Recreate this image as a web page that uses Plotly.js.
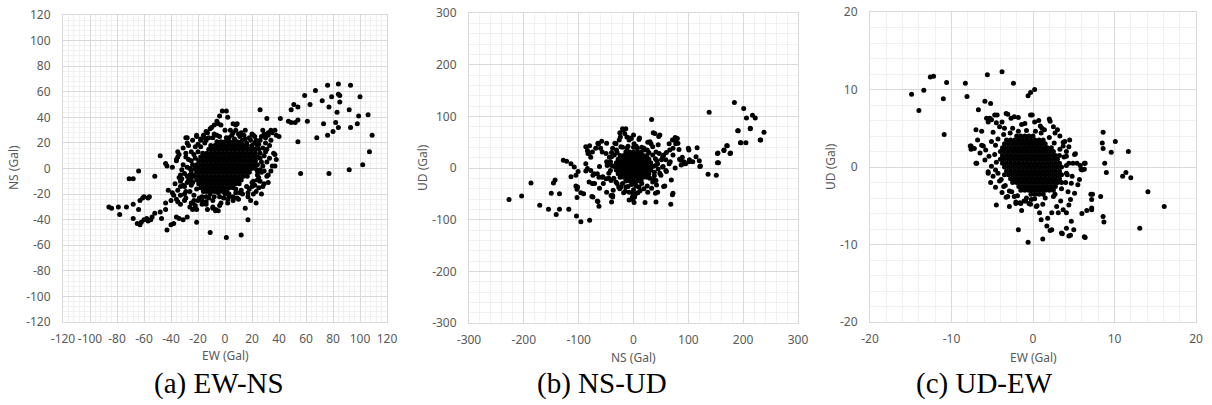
<!DOCTYPE html>
<html>
<head>
<meta charset="utf-8">
<script src="https://cdn.plot.ly/plotly-3.0.1.min.js"></script>
<style>
  html, body { margin: 0; padding: 0; background: #fff; }
  #chart { width: 1212px; height: 405px; }
</style>
</head>
<body>
<div id="chart"></div>
<script>
// Tick positions and their labels for each panel
const ticksA = [-120, -100, -80, -60, -40, -20, 0, 20, 40, 60, 80, 100, 120];
const ticksB = [-300, -200, -100, 0, 100, 200, 300];
const ticksC = [-20, -10, 0, 10, 20];
const labelsA = ['-120', '-100', '-80', '-60', '-40', '-20', '0', '20', '40', '60', '80', '100', '120'];
const labelsB = ['-300', '-200', '-100', '0', '100', '200', '300'];
const labelsC = ['-20', '-10', '0', '10', '20'];

// ---- (a) EW-NS : dense centre, one row per NS level [ns, [ew...]] ----
const ewNsCoreRows = [
  [21, [-6, -3, 0, 3, 6, 9, 12]],
  [18, [-10.5, -7.5, -4.5, -1.5, 1.5, 4.5, 7.5, 10.5, 13.5, 16.5]],
  [15, [-12, -9, -6, -3, 0, 3, 6, 9, 12, 15, 18, 21]],
  [12, [-16.5, -13.5, -10.5, -7.5, -4.5, -1.5, 1.5, 4.5, 7.5, 10.5, 13.5, 16.5, 19.5, 22.5]],
  [9, [-18, -15, -12, -9, -6, -3, 0, 3, 6, 9, 12, 15, 18, 21, 24]],
  [6, [-19.5, -16.5, -13.5, -10.5, -7.5, -4.5, -1.5, 1.5, 4.5, 7.5, 10.5, 13.5, 16.5, 19.5, 22.5]],
  [3, [-21, -18, -15, -12, -9, -6, -3, 0, 3, 6, 9, 12, 15, 18, 21, 24]],
  [0, [-22.5, -19.5, -16.5, -13.5, -10.5, -7.5, -4.5, -1.5, 1.5, 4.5, 7.5, 10.5, 13.5, 16.5, 19.5, 22.5]],
  [-3, [-21, -18, -15, -12, -9, -6, -3, 0, 3, 6, 9, 12, 15, 18]],
  [-6, [-22.5, -19.5, -16.5, -13.5, -10.5, -7.5, -4.5, -1.5, 1.5, 4.5, 7.5, 10.5, 13.5, 16.5]],
  [-9, [-21, -18, -15, -12, -9, -6, -3, 0, 3, 6, 9, 12]],
  [-12, [-19.5, -16.5, -13.5, -10.5, -7.5, -4.5, -1.5, 1.5, 4.5, 7.5, 10.5]],
  [-15, [-18, -15, -12, -9, -6, -3, 0, 3, 6]],
  [-18, [-13.5, -10.5, -7.5, -4.5, -1.5, 1.5]]
];
// (a) scattered points [ew, ns]
const ewNsOuter = [
  [26,46],[31,39],[41,39],[40,25],[47,37],[49,36],[52,36],[54,38],[49,46],[51,50],[54,48],[54,21],[56,-4],
  [59,57],[61,37],[63,50],[67,61],[68,24],[72,53],[73,35],[76,65],[77,48],[76,26],[77,-4],[79,56],[80,29],
  [82,36],[84,66],[84,58],[85,57],[85,52],[83,44],[84,32],[93,65],[92,46],[93,32],[92,-1],[100,56],[99,41],
  [98,35],[106,42],[109,26],[107,13],[102,3],
  [-86,-30],[-84,-31],[-79,-30],[-78,-36],[-73,-30],[-71,-8],[-68,-8],[-64,-2],[-52,-6],[-48,10],[-68,-28],
  [-64,-32],[-63,-25],[-61,-23],[-60,-22],[-57,-23],[-56,-22],[-68,-39],[-65,-43],[-63,-44],[-62,-42],
  [-60,-40],[-58,-39],[-57,-41],[-55,-40],[-54,-38],[-52,-35],[-48,-34],[-47,-39],[-44,-32],[-44,-27],
  [-43,-48],[-40,-44],[-38,-43],[-36,-38],[-34,-39],[-31,-40],[-28,-38],[-21,-42],[-44,4],[-43,2],[-42,-17],
  [-39,-19],[-38,-21],[-40,-25],[-36,-24],[-35,-26],[-33,-28],[-36,7],[-35,9],[-35,13],[-28,20],[-28,24],
  [-31,3],[-32,-1],[-34,-7],[-33,-10],[-31,-13],[-28,-11],[-35,-17],[-33,-21],[-30,-25],[-26,-30],[-24,-27],
  [-24,-32],[-22,-31],[-17,-28],[-34,11],[-36,6],[-39,1],[-33,-5],[-32,-8],[-30,-14],[-27,-10],[-24,-5],
  [-28,1],[-25,6],[-23,11],
  [-29,24],[-21,25],[-18,23],[-15,24],[-13,28],[-10,32],[-4,41],[-2,45],[1,45],[-5,35],[2,40],[6,35],[8,34],
  [10,27],[13,22],[6,28],[3,24],[-21,26],[-16,26],[-14,29],[-11,31],[-6,37],[-8,34],[-3,34],[0,30],[-8,27],
  [-12,24],[-18,22],[-24,22],[-27,18],[-25,13],[-29,12],[-27,7],[4,30],[9,35],
  [15,23],[21,26],[23,22],[29,27],[32,28],[34,30],[38,26],[37,11],[38,7],[35,2],[32,-5],[32,-11],[28,-14],
  [26,-10],[24,-2],[27,-20],[23,-18],[17,-22],[19,-25],[23,-27],[15,-31],[17,-40],[12,-52],[37,30],[35,28],
  [32,26],[37,2],[36,12],[28,30],[30,20],[33,18],[25,15],[29,10],[31,5],[27,-3],[31,-6],[29,-12],[25,-15],
  [21,-10],[24,-5],[34,-2],[26,22],[22,25],[20,27],[15,30],[12,28],[8,30],[27,25],[25,19],[28,16],[26,8],
  [28,2],[25,-7],[22,-13],[18,-16],[30,13],
  [-11,-50],[1,-54],[-29,-23],[-25,-27],[-22,-29],[-19,-23],[-17,-22],[-14,-28],[-13,-32],[-9,-31],[-7,-32],
  [-4,-29],[-1,-23],[3,-20],[6,-25],[9,-23],[11,-19],[8,-16],[-7,-33],[-5,-33],[-9,-30],[-3,-27],[2,-27],
  [10,-24],[-14,-26],[-19,-24],[-12,-23],[-23,-21],[-20,-25],[-14,-22],[-9,-25],[-4,-22],[3,-22],[8,-19],
  [12,-17],[16,-14],[20,-14],[-26,-18],[-25,-13],[-27,-9],[-26,-5],[-26,0],[-21,-32],
  [-14,22],[-9,24],[-4,25],[1,24],[7,23],[11,25],[16,20],[19,22],[24,18],[22,15],[26,12],[27,5],[26,-1],
  [24,-9],[20,-11],[17,-19],[13,-20],[6,-22],[0,-20],[-5,-19],[-11,-20],[-16,-18],[-21,-16],[-24,-11],
  [-25,-8],[-25,-2],[-24,3],[-22,8],[-20,13],[-18,17],[-15,20],[31,15],[34,22],[30,24],[20,18],[33,8],
  [29,-2],[21,-20],[-29,-18],[-30,-4],[-28,-6],[-20,19],[-6,26],[5,26],[14,26],[18,24],[22,20],[-23,-25],
  [-17,-25],[-8,-22],[2,-24],[-30,-20],[-33,-14],[-37,-12],[-29,9],[-31,16],[-22,17]
];

// ---- (b) NS-UD : dense centre, one row per UD level [ud, [ns...]] ----
const nsUdCoreRows = [
  [31, [-14, -7, 0, 7, 14]],
  [24, [-24.5, -17.5, -10.5, -3.5, 3.5, 10.5, 17.5, 24.5]],
  [17, [-28, -21, -14, -7, 0, 7, 14, 21, 28]],
  [10, [-31.5, -24.5, -17.5, -10.5, -3.5, 3.5, 10.5, 17.5, 24.5, 31.5]],
  [3, [-35, -28, -21, -14, -7, 0, 7, 14, 21, 28, 35]],
  [-4, [-31.5, -24.5, -17.5, -10.5, -3.5, 3.5, 10.5, 17.5, 24.5, 31.5]],
  [-11, [-28, -21, -14, -7, 0, 7, 14, 21, 28]],
  [-18, [-24.5, -17.5, -10.5, -3.5, 3.5, 10.5, 17.5, 24.5]],
  [-25, [-14, -7, 0, 7, 14]],
  [-32, [-3.5, 3.5]]
];
// (b) scattered points [ns, ud]
const nsUdOuter = [
  [-227,-61],[-204,-54],[-187,-29],[-171,-72],[-155,-80],[-150,-49],[-146,-29],[-143,-23],[-141,-90],
  [-135,-50],[-135,-80],[-118,-80],[-128,15],[-122,13],[-114,8],[-114,-17],[-108,2],[-105,-14],[-103,-57],
  [-104,-93],[-102,-37],[-96,-48],[-96,-104],[-91,-50],[-80,-101],[-76,-55],[-66,-64],[-63,-74],[-41,-53],
  [-40,-66],[33,94],[-20,76],[-14,76],[-25,68],[-12,60],[-4,57],[10,55],[36,68],[46,61],[32,47],[76,59],
  [71,54],[65,47],[83,36],[86,15],[92,8],[100,38],[116,39],[120,14],[121,3],[138,108],[136,-12],[151,-14],
  [153,10],[153,28],[165,34],[170,43],[176,28],[184,127],[190,72],[195,49],[201,115],[205,49],[206,97],
  [213,76],[217,102],[222,97],[231,54],[238,69],[71,-52],[68,-70],[55,-36],[41,-66],[21,-67],[40,-49],
  [1,-67],[-1,-61],
  [-101,-7],[-105,-35],[-103,-41],[-83,28],[-80,43],[-65,48],[-74,-56],[-49,48],[-34,48],[-31,35],[-19,74],
  [-16,67],[-87,-6],[-74,-14],[-65,-65],[-56,-17],[-62,3],[-49,12],[-40,22],[-71,-30],[-62,-39],[-37,-43],
  [-87,41],[-84,34],[-81,28],[-78,21],[-75,31],[-69,38],[-64,46],[-60,38],[-57,31],[-50,28],[-44,21],
  [-38,38],[-32,47],[-26,54],[-23,41],[-8,54],[1,47],[7,38],[19,38],[26,50],[35,41],[41,31],[47,28],[53,21],
  [59,16],[65,8],[72,38],[77,47],[80,57],[89,21],[95,8],[102,16],[108,12],[53,2],[59,-5],[50,-14],[41,-24],
  [35,-27],[44,-47],[26,-47],[19,-40],[10,-37],[4,-50],[-2,-56],[-8,-47],[-14,-37],[-23,-37],[-32,-27],
  [-41,-24],[-50,-21],[-57,-18],[-66,-11],[-72,-11],[-78,-5],[-84,-1],[-87,8],[-81,-27],[-75,-30],[-63,-18],
  [-49,-47],[-38,-53],[-27,-37],[-38,-56],
  [213,77],[191,72],[232,54],[196,49],[177,29],[171,43],[165,35],[154,29],[155,10],[122,4],[114,22],
  [101,35],[101,12],[92,12],[84,17],[87,6],[72,25],[67,12],[76,0],[69,-23],[72,-49],[57,-35],[81,48],
  [75,54],[39,67],[48,64],[30,51],[11,58],[-7,58],[36,-23],[42,-33],[33,-39],[2,-56],[-1,-49],[54,3],
  [60,-7],[48,-10],[66,35],[51,16],
  [-45,10],[-42,-5],[-40,5],[-45,-10],[40,5],[42,15],[38,-8],[45,-2],[-20,40],[-10,42],[5,42],[15,40],
  [25,35],[-25,-40],[-15,-45],[0,-42],[12,-44],[25,-35],[30,-20],[-35,25],[-40,30],[-30,-30],
  [-45,-20],[-48,5],[-36,-20],[-20,-30],[-10,-36],[5,-35],[15,-30],[38,-15],[44,8],[40,18],[35,25],
  [28,30],[20,35],[0,40],[-12,38],[-30,30],[-42,12],[-8,-62],[8,-48],[-18,-48],[-55,-30],[55,25],
  [60,30],[45,45],[-24,60],[0,64],[-58,52]
];

// ---- (c) UD-EW : dense centre, one row per UD level [ud, [ew...]] ----
const udEwCoreRows = [
  [4.0, [-2, -1.5, -1, -0.5, 0]],
  [3.5, [-3.25, -2.75, -2.25, -1.75, -1.25, -0.75, -0.25, 0.25, 0.75, 1.25]],
  [3.0, [-3.5, -3, -2.5, -2, -1.5, -1, -0.5, 0, 0.5, 1, 1.5]],
  [2.5, [-3.75, -3.25, -2.75, -2.25, -1.75, -1.25, -0.75, -0.25, 0.25, 0.75, 1.25, 1.75, 2.25]],
  [2.0, [-4, -3.5, -3, -2.5, -2, -1.5, -1, -0.5, 0, 0.5, 1, 1.5, 2, 2.5]],
  [1.5, [-3.75, -3.25, -2.75, -2.25, -1.75, -1.25, -0.75, -0.25, 0.25, 0.75, 1.25, 1.75, 2.25, 2.75, 3.25]],
  [1.0, [-4, -3.5, -3, -2.5, -2, -1.5, -1, -0.5, 0, 0.5, 1, 1.5, 2, 2.5, 3]],
  [0.5, [-3.75, -3.25, -2.75, -2.25, -1.75, -1.25, -0.75, -0.25, 0.25, 0.75, 1.25, 1.75, 2.25, 2.75, 3.25]],
  [0.0, [-3.5, -3, -2.5, -2, -1.5, -1, -0.5, 0, 0.5, 1, 1.5, 2, 2.5, 3, 3.5]],
  [-0.5, [-3.25, -2.75, -2.25, -1.75, -1.25, -0.75, -0.25, 0.25, 0.75, 1.25, 1.75, 2.25, 2.75, 3.25]],
  [-1.0, [-3.5, -3, -2.5, -2, -1.5, -1, -0.5, 0, 0.5, 1, 1.5, 2, 2.5, 3, 3.5]],
  [-1.5, [-2.75, -2.25, -1.75, -1.25, -0.75, -0.25, 0.25, 0.75, 1.25, 1.75, 2.25, 2.75, 3.25]],
  [-2.0, [-2.5, -2, -1.5, -1, -0.5, 0, 0.5, 1, 1.5, 2, 2.5, 3, 3.5]],
  [-2.5, [-1.75, -1.25, -0.75, -0.25, 0.25, 0.75, 1.25, 1.75, 2.25, 2.75]],
  [-3.0, [-1.5, -1, -0.5, 0, 0.5, 1, 1.5, 2, 2.5]],
  [-3.5, [-0.25, 0.25, 0.75, 1.25]]
];
// (c) scattered points [ew, ud]
const udEwOuter = [
  [-14.9,9.4],[-14,7.3],[-13.4,9.9],[-12.6,11.6],[-12.2,11.7],[-11,8.8],[-10.9,4.2],[-10.6,10.9],[-8.3,10.8],
  [-8.1,9.1],[-6.7,7.4],[-5.9,8.5],[-5.2,8.2],[-5.6,11.9],[-3.8,12.3],[-2.4,10.8],[-0.6,9.2],[-0.3,9.6],
  [0.2,10],[-7,0.5],[-7.6,2.7],[-4.6,-2.6],[-4.5,-4.9],[-3.3,-3.9],[-2.9,-5.1],[-1.8,-8.1],[-0.6,-9.7],
  [1.2,-9.3],[3.5,-8.5],[4.4,-8.9],[5,-8.1],[6.3,-9],[4.7,-7],[2.1,-8.2],[7.2,-5.5],[7.2,-4.2],[7.1,-3.5],
  [5.1,1.6],[6.3,0.5],[6.3,-0.3],[8.3,-3.8],[8.6,4.5],[8.5,3.1],[8.6,2.4],[8.8,0.5],[9,-0.7],[8.6,-6.4],
  [8.7,-7.1],[9.6,1.9],[10.1,3.3],[11,-1.2],[11.4,-0.7],[11.7,2],[12,-1.4],[13.1,-7.9],[14.1,-3.2],[16.1,-5.1],
  [-7.6,2.3],[-7,4.8],[-6.9,0.5],[-6.3,2.8],[-5.3,6.3],[-4.4,6.7],[-5.5,-0.8],[-3.1,6.8],[-0.1,6.7],[-3.1,-3.8],
  [-5.7,6.3],[-5.5,5.8],[-5.1,6.1],[-4.7,6.7],[-4.5,5.7],[-3.3,6.9],[-2.7,6.3],[-2.3,6.5],[-1.8,6.4],[-1.4,5.5],
  [-0.3,6.7],[0.2,5.8],[0.7,6],[2,6.2],[2.1,5.9],[2.5,5.2],[1.4,4.8],[1.1,5],[-4.1,5.2],[-3.5,5],[-2.5,5],
  [-6.3,4.6],[-6.8,3.5],[-6.1,2.7],[-7.2,2.4],[-7.7,2.7],[-6.5,1.8],[-5.9,0.9],[-5.4,1.4],[-5.1,0.1],[-5.5,-0.6],
  [-4.9,-1.2],[-4.6,-0.4],[-4.1,-1.8],[-3.6,-2.5],[-2.9,-3.1],[-2.3,-3.8],[-2.1,-4.7],[-1.6,-4.6],[-1.1,-4.4],
  [-0.5,-4.7],[-0.2,-4.2],[0.4,-5.1],[0.8,-5.9],[1,-6.8],[1.7,-7.6],[1.8,-6.6],[2.3,-5.9],[2.9,-5.1],
  [3.4,-4.4],[3.7,-5.5],[4.1,-5.9],[4.4,-4.9],[4.6,-4.2],[5.1,-3.4],[5.5,-2.3],[5.7,-1.6],[4.7,-2.1],
  [4.1,-0.8],[4.4,0.5],[4.9,0.5],[5.9,-0.3],[3.7,2.7],[4.1,2],[3.9,3.3],[3.3,4],[2.7,4.4],[4.1,1.4],
  [2.5,-3.8],[3.1,-5.9],[3.7,3.2],[7.3,-3.5],[7.2,-5.3],[6.4,-9.1],[6,-6],[6.4,0.5],[4.6,-8.8],[5.8,0.2],
  [6,-0.4],[5.4,0.5],[5.2,1.7],[4.4,2.6],[4.1,-7.9],[3.6,-8.6],[2.3,-8.1],[6.6,-5.6],
  [-2.1,-4.5],[-1.5,-4.7],[-0.9,-4.4],[-0.3,-4.8],[0.5,-5],
  [-4.3,3.6],[-4.6,2.8],[-4.7,1.6],[-4.5,0.6],[-4.3,-0.8],[-3.9,-1.6],[-3.4,-2.4],[-2.6,-3.2],[-1.9,-3.7],
  [-0.8,-4],[0.2,-4.1],[1.5,-4],[2.7,-3.5],[3.5,-2.8],[4,-2],[4.2,-1],[4.1,0.2],[3.8,1.3],[3.3,2.3],
  [2.6,3.1],[2,3.8],[1,4.4],[0.3,4.6],[-0.8,4.7],[-1.8,4.6],[-2.8,4.4],[-3.6,4.2],[-3.8,5.8],[-1,5.6],
  [0.9,5.3],[3,4.8],[4.5,3.5],[4.8,-1.2],[4.3,-3.2],[1.2,-4.8],[-1.4,-5.6],[-3.8,-3.3],[-5.2,-2],
  [-5.8,2.2],[-5.1,3.3],[-4.9,4.5]
];

// Flatten a row table into x/y arrays (row value goes on the vertical axis)
function fromRows(rows) {
  const xs = [], ys = [];
  rows.forEach(function (r) { r[1].forEach(function (v) { xs.push(v); ys.push(r[0]); }); });
  return { x: xs, y: ys };
}
function fromPairs(pairs) {
  return { x: pairs.map(function (p) { return p[0]; }), y: pairs.map(function (p) { return p[1]; }) };
}
function merge(a, b) { return { x: a.x.concat(b.x), y: a.y.concat(b.y) }; }

const panelA = merge(fromRows(ewNsCoreRows), fromPairs(ewNsOuter));
const panelB = merge(fromRows(nsUdCoreRows), fromPairs(nsUdOuter));
const panelC = merge(fromRows(udEwCoreRows), fromPairs(udEwOuter));

const W = 1212, H = 405;
const dot = { color: '#000000', size: 5, line: { width: 0 } };

function trace(p, xa, ya) {
  return { type: 'scatter', mode: 'markers', x: p.x, y: p.y, xaxis: xa, yaxis: ya,
           marker: dot, hoverinfo: 'skip', showlegend: false };
}

const tickFont = { family: 'Noto Sans, DejaVu Sans, sans-serif', size: 12, color: '#595959' };

function axis(range, tickvals, ticktext, minor, lo, hi, isX) {
  return {
    range: range, autorange: false, tickmode: 'array', tickvals: tickvals, ticktext: ticktext, tickangle: 0,
    showgrid: true, gridcolor: '#d9d9d9', gridwidth: 1,
    minor: { tickmode: 'linear', dtick: minor, tick0: 0, showgrid: true, gridcolor: '#f0f0f0', gridwidth: 1, ticks: '' },
    zeroline: false, showline: true, mirror: true, linecolor: '#d9d9d9', linewidth: 1,
    ticks: '', tickfont: tickFont, ticklabelstandoff: isX ? 6 : 9, fixedrange: true,
    domain: [lo, hi]
  };
}
function px2x(px) { return px / W; }
function py2y(py) { return 1 - py / H; }

const layout = {
  width: W, height: H,
  margin: { l: 0, r: 0, t: 0, b: 0 },
  paper_bgcolor: '#ffffff', plot_bgcolor: '#ffffff',
  xaxis:  axis([-120, 120], ticksA, labelsA, 4, px2x(63), px2x(387), true),
  yaxis:  axis([-120, 120], ticksA, labelsA, 4, py2y(322), py2y(15), false),
  xaxis2: axis([-300, 300], ticksB, labelsB, 20, px2x(469), px2x(798), true),
  yaxis2: axis([-300, 300], ticksB, labelsB, 20, py2y(323), py2y(13), false),
  xaxis3: axis([-20, 20], ticksC, labelsC, 2, px2x(870), px2x(1196), true),
  yaxis3: axis([-20, 20], ticksC, labelsC, 2, py2y(322), py2y(12), false),
  annotations: []
};
layout.xaxis.anchor = 'y';  layout.yaxis.anchor = 'x';
layout.xaxis2.anchor = 'y2'; layout.yaxis2.anchor = 'x2';
layout.xaxis3.anchor = 'y3'; layout.yaxis3.anchor = 'x3';

const titleFont = { family: 'Noto Sans, DejaVu Sans, sans-serif', size: 12, color: '#595959' };
const capFont = { family: 'Liberation Serif, Times New Roman, serif', size: 29, color: '#000000' };

function note(text, x, y, font, angle) {
  layout.annotations.push({ text: text, xref: 'paper', yref: 'paper', x: px2x(x), y: py2y(y),
    xanchor: 'center', yanchor: 'middle', showarrow: false, font: font, textangle: angle || 0 });
}
// axis titles
note('EW (Gal)', 225, 355, titleFont);
note('NS (Gal)', 14, 168, titleFont, -90);
note('NS (Gal)', 633, 357, titleFont);
note('UD (Gal)', 423, 168, titleFont, -90);
note('EW (Gal)', 1033, 357, titleFont);
note('UD (Gal)', 830, 167, titleFont, -90);
// panel captions
note('(a) EW-NS', 219, 383, capFont);
note('(b) NS-UD', 602, 383, capFont);
note('(c) UD-EW', 984, 383, capFont);

Plotly.newPlot('chart', [
  trace(panelA, 'x', 'y'),
  trace(panelB, 'x2', 'y2'),
  trace(panelC, 'x3', 'y3')
], layout, { staticPlot: true, displayModeBar: false });
</script>
</body>
</html>
